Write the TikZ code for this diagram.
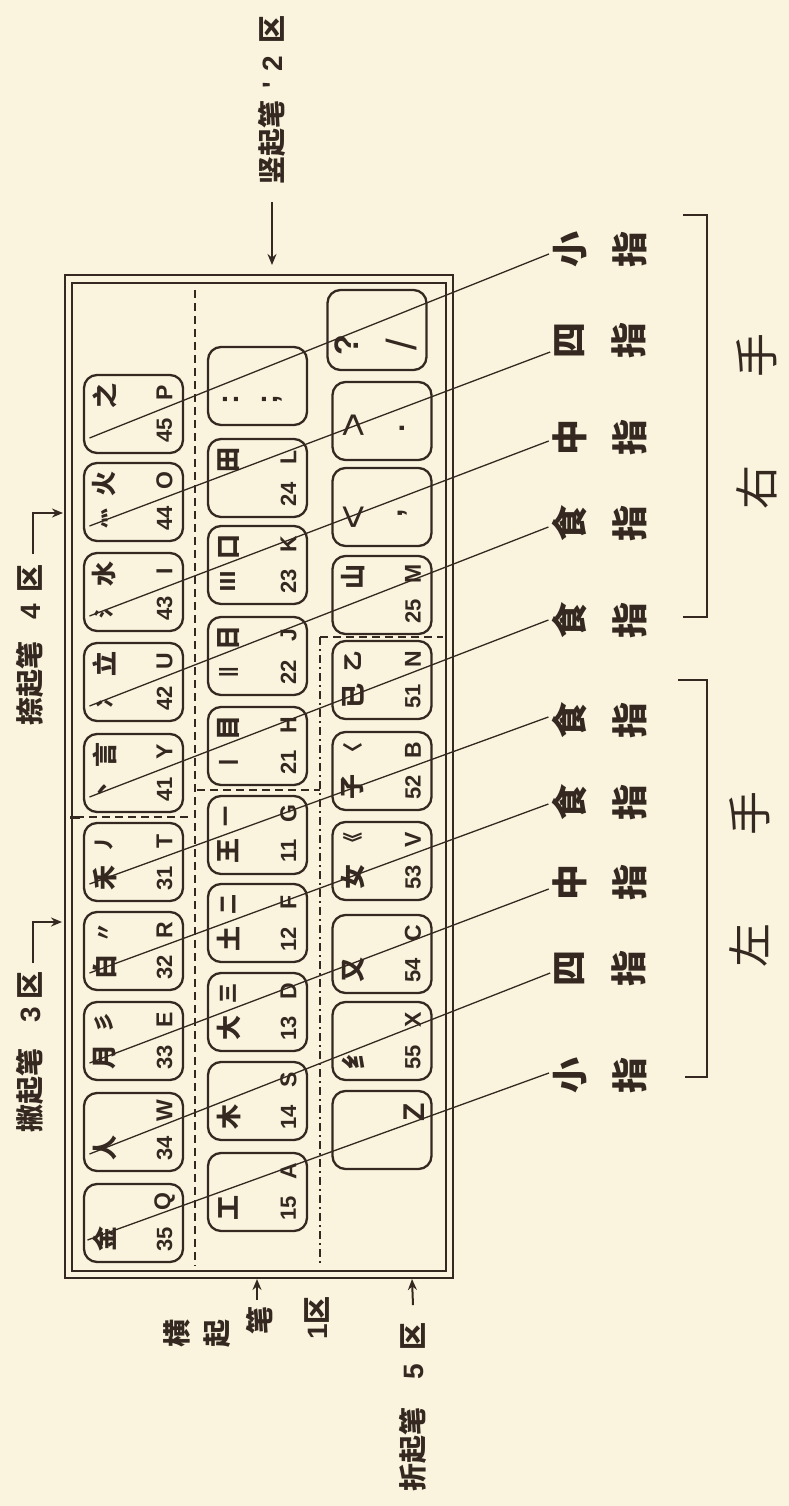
\documentclass[tikz,border=0pt]{standalone}
\usepackage{fontspec}
\newfontfamily\cjk{Noto Sans CJK SC}
\newfontfamily\numf{Liberation Sans}
\usetikzlibrary{arrows.meta}
\definecolor{paper}{RGB}{250,244,222}
\definecolor{ink}{RGB}{52,40,32}
\newcommand\kyL[7]{%
  \node[keybox] (#1) at (#2,#3) {};
  \node[rad] (#1r) at ([shift={(-29,16)}]#1.center) {#4};
  \node[stk] (#1s) at ([shift={(-29,-19)}]#1.center) {#5};
  \node[num] (#1n) at ([shift={(31,16)}]#1.center) {#6};
  \node[ltr] (#1l) at ([shift={(31,-21)}]#1.center) {#7};}
\newcommand\kyR[7]{%
  \node[keybox] (#1) at (#2,#3) {};
  \node[stk] (#1s) at ([shift={(-29,16)}]#1.center) {#4};
  \node[rad] (#1r) at ([shift={(-29,-18)}]#1.center) {#5};
  \node[num] (#1n) at ([shift={(31,16)}]#1.center) {#6};
  \node[ltr] (#1l) at ([shift={(31,-21)}]#1.center) {#7};}
\begin{document}
\begin{tikzpicture}[x=1pt,y=-1pt,
  every node/.style={text=ink},
  keybox/.style={draw=ink, line width=2.3pt, rounded corners=13pt, minimum width=99pt, minimum height=78pt, inner sep=0pt},
  rad/.style={rotate=90, inner sep=0pt, font=\cjk\bfseries\fontsize{25}{25}\selectfont},
  stk/.style={rotate=90, inner sep=0pt, font=\cjk\bfseries\fontsize{20}{20}\selectfont},
  num/.style={rotate=90, inner sep=0pt, font=\numf\bfseries\fontsize{22}{22}\selectfont},
  ltr/.style={rotate=90, inner sep=0pt, font=\numf\bfseries\fontsize{23}{23}\selectfont},
  sym/.style={rotate=90, inner sep=0pt, font=\numf\bfseries\fontsize{30}{30}\selectfont},
  big/.style={rotate=90, inner sep=0pt, font=\numf\fontsize{42}{42}\selectfont},
  lab/.style={rotate=90, align=center, inner sep=4pt, font=\cjk\bfseries\fontsize{36}{60}\selectfont},
  hand/.style={rotate=90, inner sep=0pt, font=\cjk\fontsize{44}{44}\selectfont},
  zone/.style={rotate=90, inner sep=0pt, font=\cjk\bfseries\fontsize{28}{28}\selectfont},
  leader/.style={draw=ink, line width=1.3pt},
  sepa/.style={draw=ink, line width=1.4pt, dash pattern=on 8pt off 5pt},
  sepb/.style={draw=ink, line width=1.4pt, dash pattern=on 8pt off 4pt on 2pt off 4pt},
  brk/.style={draw=ink, line width=2pt},
  arr/.style={draw=ink, line width=2pt, -{Stealth[length=11pt,width=9pt]}}]
\fill[paper] (0,0) rectangle (789,1506);
\useasboundingbox (0,0) rectangle (789,1506);
% frame
\draw[ink, line width=2.6pt] (65,275) rectangle (453,1278);
\draw[ink, line width=1.6pt] (72,283) rectangle (446,1271);
\draw[ink, line width=3pt] (70,817) -- (80,817);
% zone separators
\draw[sepa] (195,290) -- (195,1266);
\draw[sepb] (320,637) -- (320,1266);
\draw[sepa] (320,637) -- (443,637);
\draw[sepa] (197,790) -- (320,790);
\draw[sepa] (76,817) -- (190,817);
% row 1
\kyL{kQ}{133.5}{1223}{金}{}{35}{Q}
\kyL{kW}{133.5}{1132}{人}{}{34}{W}
\kyL{kE}{133.5}{1041}{月}{彡}{33}{E}
\kyL{kR}{133.5}{951}{白}{〃}{32}{R}
\kyL{kT}{133.5}{862}{禾}{丿}{31}{T}
\kyR{kY}{133.5}{773}{丶}{言}{41}{Y}
\kyR{kU}{133.5}{682}{冫}{立}{42}{U}
\kyR{kI}{133.5}{592}{氵}{水}{43}{I}
\kyR{kO}{133.5}{502}{灬}{火}{44}{O}
\kyR{kP}{133.5}{414}{}{之}{45}{P}
% row 2
\kyL{kA}{257.5}{1192}{工}{}{15}{A}
\kyL{kS}{257.5}{1101}{木}{}{14}{S}
\kyL{kD}{257.5}{1012}{大}{三}{13}{D}
\kyL{kF}{257.5}{923}{土}{二}{12}{F}
\kyL{kG}{257.5}{835}{王}{一}{11}{G}
\kyR{kH}{257.5}{746}{丨}{目}{21}{H}
\kyR{kJ}{257.5}{656}{{\numf\bfseries ||}}{日}{22}{J}
\kyR{kK}{257.5}{565}{Ⅲ}{口}{23}{K}
\kyR{kL}{257.5}{478}{}{田}{24}{L}
\node[keybox] (kSemi) at (257.5,386) {};
\node[sym] (kSemia) at ([shift={(-27,14)}]kSemi.center) {:};
\node[sym] (kSemib) at ([shift={(15,14)}]kSemi.center) {;};
% row 3
\node[keybox] (kZ) at (382,1130) {};
\node[ltr, font=\numf\bfseries\fontsize{30}{30}\selectfont] (kZl) at ([shift={(32,-18)}]kZ.center) {Z};
\kyL{kX}{382}{1041}{纟}{}{55}{X}
\kyL{kC}{382}{954}{又}{}{54}{C}
\kyL{kV}{382}{861}{女}{《}{53}{V}
\kyL{kB}{382}{771}{子}{〈}{52}{B}
\kyL{kN}{382}{680}{已}{乙}{51}{N}
\kyR{kM}{382}{595}{}{山}{25}{M}
\node[keybox] (kLt) at (382,507) {};
\node[big] (kLta) at ([shift={(-27,10)}]kLt.center) {<};
\node[sym] (kLtb) at ([shift={(21,6)}]kLt.center) {,};
\node[keybox] (kGt) at (382,421) {};
\node[big] (kGta) at ([shift={(-27,4)}]kGt.center) {>};
\node[sym] (kGtb) at ([shift={(20,7)}]kGt.center) {.};
\node[keybox, minimum height=80pt] (kQm) at (377,330) {};
\node[sym, font=\numf\bfseries\fontsize{34}{34}\selectfont] (kQma) at ([shift={(-30,15)}]kQm.center) {?};
\node[big] (kQmb) at ([shift={(24,15)}]kQm.center) {/};
% finger labels
\node[lab] (lR1) at (600,250) {小\\指};
\node[lab] (lR2) at (600,340) {四\\指};
\node[lab] (lR3) at (600,437) {中\\指};
\node[lab] (lR4) at (600,523) {食\\指};
\node[lab] (lR5) at (600,620) {食\\指};
\node[lab] (lL5) at (600,720) {食\\指};
\node[lab] (lL4) at (600,802) {食\\指};
\node[lab] (lL3) at (600,882) {中\\指};
\node[lab] (lL2) at (600,968) {四\\指};
\node[lab] (lL1) at (600,1075) {小\\指};
\draw[leader] ([shift={(-44,24)}]kP.center) -- ([shift={(0,4)}]lR1.north);
\draw[leader] ([shift={(-44,24)}]kO.center) -- ([shift={(0,12)}]lR2.north);
\draw[leader] ([shift={(-44,24)}]kI.center) -- ([shift={(0,4)}]lR3.north);
\draw[leader] ([shift={(-44,24)}]kU.center) -- ([shift={(0,4)}]lR4.north);
\draw[leader] ([shift={(-44,24)}]kY.center) -- ([shift={(0,0)}]lR5.north);
\draw[leader] ([shift={(-44,22)}]kT.center) -- ([shift={(0,-3)}]lL5.north);
\draw[leader] ([shift={(-44,22)}]kR.center) -- ([shift={(0,2)}]lL4.north);
\draw[leader] ([shift={(-44,22)}]kE.center) -- ([shift={(0,7)}]lL3.north);
\draw[leader] ([shift={(-44,22)}]kW.center) -- ([shift={(0,5)}]lL2.north);
\draw[leader] ([shift={(-46,17)}]kQ.center) -- ([shift={(0,-2)}]lL1.north);
% hand brackets
\draw[brk] (683,215) -- (707,215) -- (707,617) -- (683,617);
\draw[brk] (678,680) -- (707,680) -- (707,1077) -- (685,1077);
\node[hand] (hR) at (757,421) {右\hspace{88pt}手};
\node[hand] (hL) at (750,879) {左\hspace{88pt}手};
% zone labels
\node[zone] (z4) at (30,645) {捺起笔\hspace{22pt}{\numf 4}\hspace{12pt}区};
\coordinate (a4) at (63,513);
\draw[arr] ([shift={(3,-10)}]z4.east) |- (a4);
\node[zone] (z3) at (30,1052) {撇起笔\hspace{26pt}{\numf 3}\hspace{8pt}区};
\coordinate (a3) at (62,922);
\draw[arr] ([shift={(3,-8)}]z3.east) |- (a3);
\node[zone] (z2) at (272,100) {竖起笔\hspace{12pt}{\numf '}\hspace{10pt}{\numf 2}\hspace{12pt}区};
\coordinate (a2) at (272,265);
\draw[arr] ([shift={(0,18)}]z2.west) -- (a2);
\node[zone] (b1) at (177,1333) {横};
\node[zone] (b2) at (217,1333) {起};
\node[zone] (b3) at (260,1320) {笔};
\node[zone] (b4) at (317,1318) {{\numf 1}区};
\coordinate (a1) at (257,1279);
\draw[arr] ([shift={(-3,-6)}]b3.east) -- (a1);
\node[zone] (z5) at (413,1407) {折起笔\hspace{28pt}{\numf 5}\hspace{14pt}区};
\coordinate (a5) at (412,1279);
\draw[arr] ([shift={(0,-17)}]z5.east) -- (a5);
\end{tikzpicture}
\end{document}
